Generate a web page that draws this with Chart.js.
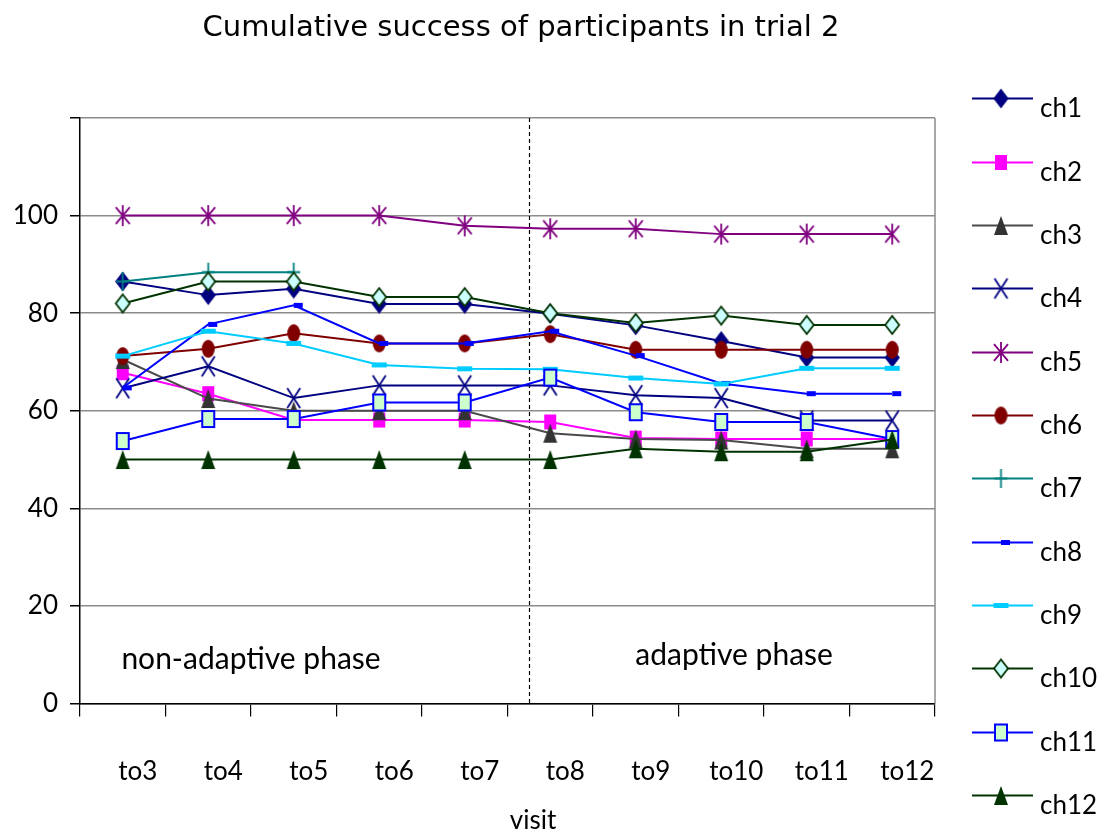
<!DOCTYPE html>
<html>
<head>
<meta charset="utf-8">
<title>Cumulative success of participants in trial 2</title>
<script src="https://cdn.jsdelivr.net/npm/chart.js@4.4.0/dist/chart.umd.min.js"></script>
<style>
  html, body { margin: 0; padding: 0; background: #ffffff; }
  #wrap { width: 1108px; height: 831px; position: relative; }
</style>
</head>
<body>
<div id="wrap"><canvas id="chart" width="1108" height="831"></canvas></div>
<script>
// ---- data ----
const visits = ['to3', 'to4', 'to5', 'to6', 'to7', 'to8', 'to9', 'to10', 'to11', 'to12'];
const seriesNames = ['ch1', 'ch2', 'ch3', 'ch4', 'ch5', 'ch6', 'ch7', 'ch8', 'ch9', 'ch10', 'ch11', 'ch12'];

const ch1  = [86.5, 83.7, 85.0, 81.9, 81.9, 79.9, 77.5, 74.3, 70.9, 70.9];
const ch2  = [67.8, 63.5, 58.1, 58.1, 58.1, 57.7, 54.4, 54.2, 54.2, 54.2];
const ch3  = [70.5, 62.5, 60.0, 60.0, 60.0, 55.4, 54.2, 54.0, 52.2, 52.2];
const ch4  = [64.6, 69.1, 62.6, 65.2, 65.2, 65.2, 63.2, 62.6, 58.0, 58.0];
const ch5  = [100, 100, 100, 100, 97.9, 97.3, 97.3, 96.2, 96.2, 96.2];
const ch6  = [71.2, 72.7, 75.9, 73.8, 73.8, 75.7, 72.5, 72.5, 72.5, 72.5];
const ch7  = [86.5, 88.4, 88.4, null, null, null, null, null, null, null];
const ch8  = [64.7, 77.7, 81.6, 73.8, 73.8, 76.3, 71.3, 65.6, 63.5, 63.5];
const ch9  = [71.2, 76.3, 73.8, 69.4, 68.6, 68.5, 66.7, 65.5, 68.7, 68.7];
const ch10 = [82.0, 86.5, 86.5, 83.3, 83.3, 80.0, 78.0, 79.5, 77.6, 77.6];
const ch11 = [53.8, 58.3, 58.3, 61.7, 61.7, 66.8, 59.7, 57.7, 57.7, 54.2];
const ch12 = [50, 50, 50, 50, 50, 50, 52.2, 51.6, 51.6, 54.1];

const seriesData = [ch1, ch2, ch3, ch4, ch5, ch6, ch7, ch8, ch9, ch10, ch11, ch12];

const yGridValues = [0, 20, 40, 60, 80, 100, 120];
const yLabelled   = [0, 20, 40, 60, 80, 100];

// phase split sits between to7 and to8 (category index units)
const phaseBoundary = 4.75;
const phaseLabels = ['non-adaptive phase', 'adaptive phase'];

// ---- styling ----
const seriesStyle = [
  { line: '#000080', marker: 'diamond',   fill: '#000080', stroke: '#000080', w: 13, h: 17 },
  { line: '#ff00ff', marker: 'square',    fill: '#ff00ff', stroke: '#ff00ff', w: 12, h: 15 },
  { line: '#4a4a4a', marker: 'triangle',  fill: '#333333', stroke: '#333333', w: 14, h: 19 },
  { line: '#000080', marker: 'x',         fill: null,      stroke: '#000080', w: 13, h: 20 },
  { line: '#800080', marker: 'asterisk',  fill: null,      stroke: '#800080', w: 14, h: 21 },
  { line: '#800000', marker: 'ellipse',   fill: '#800000', stroke: '#800000', w: 13, h: 18 },
  { line: '#008080', marker: 'plus',      fill: null,      stroke: '#008080', w: 13, h: 19 },
  { line: '#0000ff', marker: 'dashRight', fill: '#0000ff', stroke: null,      w: 9,  h: 5  },
  { line: '#00ccff', marker: 'dash',      fill: '#00ccff', stroke: null,      w: 15, h: 5  },
  { line: '#003300', marker: 'diamond',   fill: '#ccffff', stroke: '#003300', w: 14, h: 18 },
  { line: '#0000ff', marker: 'square',    fill: '#ccffcc', stroke: '#0000ff', w: 12, h: 16 },
  { line: '#003300', marker: 'triangle',  fill: '#003300', stroke: '#003300', w: 14, h: 19 }
];

function makeMarker(s) {
  const pad = 3;
  const wide = s.marker === 'dashRight' ? s.w * 2 : s.w;
  const c = document.createElement('canvas');
  c.width = Math.ceil(wide + pad * 2);
  c.height = Math.ceil(s.h + pad * 2);
  const g = c.getContext('2d');
  const cx = c.width / 2, cy = c.height / 2, hw = s.w / 2, hh = s.h / 2;
  g.lineWidth = 1.8;
  g.lineJoin = 'miter';
  if (s.stroke) g.strokeStyle = s.stroke;
  if (s.fill) g.fillStyle = s.fill;
  g.beginPath();
  switch (s.marker) {
    case 'diamond':
      g.moveTo(cx, cy - hh); g.lineTo(cx + hw, cy); g.lineTo(cx, cy + hh); g.lineTo(cx - hw, cy); g.closePath();
      g.fill(); g.stroke();
      break;
    case 'square':
      g.rect(cx - hw, cy - hh, s.w, s.h);
      g.fill();
      if (s.stroke !== s.fill) { g.lineWidth = 2; g.stroke(); }
      break;
    case 'triangle':
      g.moveTo(cx, cy - hh); g.lineTo(cx + hw, cy + hh); g.lineTo(cx - hw, cy + hh); g.closePath();
      g.fill();
      break;
    case 'ellipse':
      g.ellipse(cx, cy, hw, hh, 0, 0, Math.PI * 2);
      g.fill();
      break;
    case 'x':
      g.moveTo(cx - hw, cy - hh); g.lineTo(cx + hw, cy + hh);
      g.moveTo(cx + hw, cy - hh); g.lineTo(cx - hw, cy + hh);
      g.stroke();
      break;
    case 'asterisk':
      g.moveTo(cx - hw, cy - hh * 0.8); g.lineTo(cx + hw, cy + hh * 0.8);
      g.moveTo(cx + hw, cy - hh * 0.8); g.lineTo(cx - hw, cy + hh * 0.8);
      g.moveTo(cx, cy - hh); g.lineTo(cx, cy + hh);
      g.stroke();
      break;
    case 'plus':
      g.moveTo(cx, cy - hh); g.lineTo(cx, cy + hh);
      g.moveTo(cx - hw, cy); g.lineTo(cx + hw, cy);
      g.stroke();
      break;
    case 'dash':
      g.fillRect(cx - hw, cy - hh, s.w, s.h);
      break;
    case 'dashRight':
      g.fillRect(cx, cy - hh, s.w, s.h);
      break;
  }
  return c;
}

const markers = seriesStyle.map(makeMarker);

// ---- decorations: divider, frame edge, title, phase labels, legend ----
const decorPlugin = {
  id: 'decor',
  beforeDatasetsDraw(chart) {
    const { ctx, chartArea: a, scales: { x } } = chart;
    ctx.save();
    const px = Math.round(x.getPixelForValue(phaseBoundary)) + 0.5;
    ctx.setLineDash([4, 3]);
    ctx.strokeStyle = '#000000';
    ctx.lineWidth = 1.2;
    ctx.beginPath();
    ctx.moveTo(px, a.top);
    ctx.lineTo(px, a.bottom);
    ctx.stroke();
    ctx.setLineDash([]);
    ctx.strokeStyle = '#8c8c8c';
    ctx.lineWidth = 1.5;
    ctx.beginPath();
    ctx.moveTo(a.right, a.top);
    ctx.lineTo(a.right, a.bottom);
    ctx.stroke();
    ctx.restore();
  },
  afterDraw(chart) {
    const { ctx, scales: { x, y } } = chart;
    ctx.save();
    ctx.fillStyle = '#000000';

    // title
    ctx.font = '29px "DejaVu Sans"';
    ctx.textAlign = 'center';
    ctx.textBaseline = 'middle';
    ctx.fillText('Cumulative success of participants in trial 2', 521, 28);

    // axis title
    ctx.font = '26px Lato';
    ctx.fillText('visit', 533, 821);

    // phase labels
    ctx.font = '30px Lato';
    ctx.fillText(phaseLabels[0], x.getPixelForValue(1.5), y.getPixelForValue(9));
    ctx.fillText(phaseLabels[1], x.getPixelForValue(7.15), y.getPixelForValue(9.8));

    // legend
    ctx.font = '26px Lato';
    ctx.textAlign = 'left';
    ctx.textBaseline = 'alphabetic';
    seriesNames.forEach((name, i) => {
      const ly = Math.round(98.3 + 63.33 * i) + 0.5;
      ctx.strokeStyle = seriesStyle[i].line;
      ctx.lineWidth = 2;
      ctx.beginPath();
      ctx.moveTo(972, ly);
      ctx.lineTo(1033, ly);
      ctx.stroke();
      const m = markers[i];
      ctx.drawImage(m, 1001 - m.width / 2, ly - m.height / 2);
      ctx.fillStyle = '#000000';
      ctx.fillText(name, 1040, ly + 18);
    });
    ctx.restore();
  }
};

Chart.defaults.font.family = 'Lato';
Chart.defaults.color = '#000000';

new Chart(document.getElementById('chart'), {
  type: 'line',
  data: {
    labels: visits,
    datasets: seriesData.map((d, i) => ({
      label: seriesNames[i],
      data: d,
      borderColor: seriesStyle[i].line,
      backgroundColor: seriesStyle[i].fill || seriesStyle[i].line,
      borderWidth: 2,
      pointStyle: markers[i],
      pointRadius: 8,
      pointHoverRadius: 8,
      tension: 0,
      fill: false,
      spanGaps: false,
      order: seriesNames.length - 1 - i
    }))
  },
  options: {
    responsive: false,
    devicePixelRatio: 1,
    animation: false,
    events: [],
    layout: { padding: { top: 118, right: 173, left: 0, bottom: 0 } },
    plugins: {
      legend: { display: false },
      title: { display: false },
      tooltip: { enabled: false }
    },
    scales: {
      x: {
        type: 'category',
        offset: true,
        grid: {
          offset: true,
          drawOnChartArea: false,
          drawTicks: true,
          tickLength: 13,
          tickColor: '#000000',
          lineWidth: 1.2
        },
        border: { display: true, color: '#000000', width: 1.5 },
        ticks: {
          font: { size: 26, family: 'Lato' },
          color: '#000000',
          padding: 40,
          labelOffset: 15,
          maxRotation: 0,
          autoSkip: false
        },
        afterFit(scale) { scale.height = 127.5; }
      },
      y: {
        min: 0,
        max: 120,
        afterBuildTicks(scale) { scale.ticks = yGridValues.map(v => ({ value: v })); },
        grid: {
          color: '#8c8c8c',
          lineWidth: 1.5,
          tickLength: 10,
          tickColor: '#000000'
        },
        border: { display: true, color: '#000000', width: 1.5 },
        ticks: {
          font: { size: 26, family: 'Lato' },
          color: '#000000',
          padding: 12,
          callback: (v) => (yLabelled.includes(v) ? String(v) : '')
        },
        afterFit(scale) { scale.width = 80; }
      }
    }
  },
  plugins: [decorPlugin]
});
</script>
</body>
</html>
